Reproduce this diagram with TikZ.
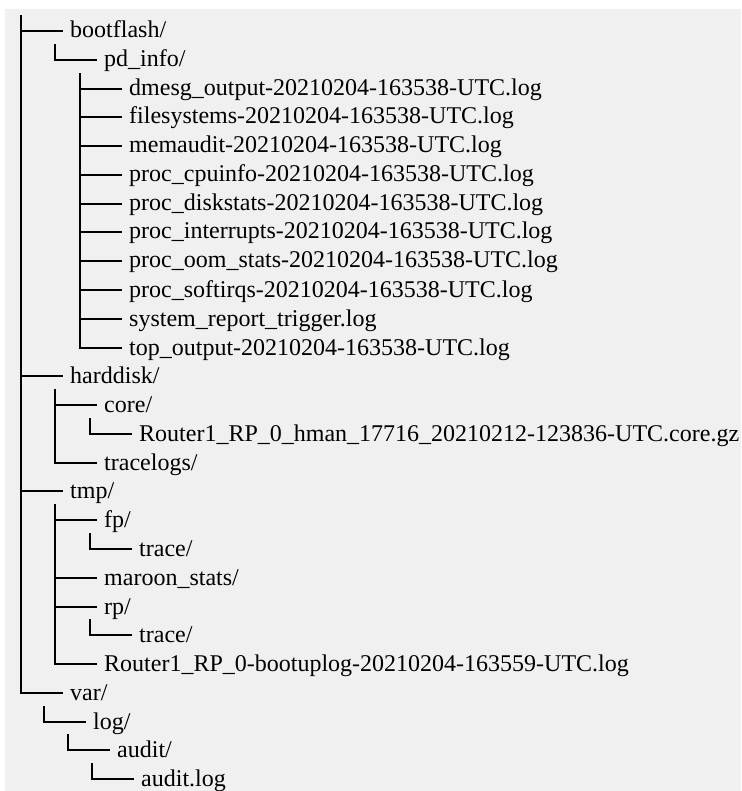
\documentclass[tikz,border=0pt]{standalone}
\usepackage{fontspec}
\setmainfont{Liberation Serif}
\definecolor{bggray}{HTML}{F0F0F0}
\newcommand\rowy[1]{round(31+28.78*#1)}
\newcommand\entry[4]{%
  \coordinate (#1-b) at (#2, {\rowy{#3}});
  \node[lbl] (#1) at ({#2+49}, {\rowy{#3}+7}) {#4};
}
\begin{document}
\begin{tikzpicture}[x=1pt,y=-1pt,
  lbl/.style={anchor=base west, inner sep=0pt, font=\fontsize{24}{28}\selectfont},
  tline/.style={line width=2pt, black}]
\useasboundingbox (0,0) rectangle (741,791);
\fill[white] (0,0) rectangle (741,791);
\fill[bggray] (5,9) rectangle (741,791);
\entry{bootflash}{21}{0}{bootflash/}
\entry{pdinfo}{55}{1}{pd\_info/}
\entry{dmesg}{80}{2}{dmesg\_output-20210204-163538-UTC.log}
\entry{filesys}{80}{3}{filesystems-20210204-163538-UTC.log}
\entry{memaudit}{80}{4}{memaudit-20210204-163538-UTC.log}
\entry{cpuinfo}{80}{5}{proc\_cpuinfo-20210204-163538-UTC.log}
\entry{diskstats}{80}{6}{proc\_diskstats-20210204-163538-UTC.log}
\entry{interrupts}{80}{7}{proc\_interrupts-20210204-163538-UTC.log}
\entry{oom}{80}{8}{proc\_oom\_stats-20210204-163538-UTC.log}
\entry{softirqs}{80}{9}{proc\_softirqs-20210204-163538-UTC.log}
\entry{sysrep}{80}{10}{system\_report\_trigger.log}
\entry{topout}{80}{11}{top\_output-20210204-163538-UTC.log}
\entry{harddisk}{21}{12}{harddisk/}
\entry{core}{55}{13}{core/}
\entry{corefile}{90}{14}{Router1\_RP\_0\_hman\_17716\_20210212-123836-UTC.core.gz}
\entry{tracelogs}{55}{15}{tracelogs/}
\entry{tmp}{21}{16}{tmp/}
\entry{fp}{55}{17}{fp/}
\entry{fptrace}{90}{18}{trace/}
\entry{maroon}{55}{19}{maroon\_stats/}
\entry{rp}{55}{20}{rp/}
\entry{rptrace}{90}{21}{trace/}
\entry{bootlog}{55}{22}{Router1\_RP\_0-bootuplog-20210204-163559-UTC.log}
\entry{var}{21}{23}{var/}
\entry{log}{44}{24}{log/}
\entry{audit}{68}{25}{audit/}
\entry{auditlog}{92}{26}{audit.log}
% vertical trunks: from above the first child down to the last child
\foreach \a/\b in {bootflash/var, pdinfo/pdinfo, dmesg/topout, core/tracelogs,
  corefile/corefile, fp/bootlog, fptrace/fptrace, rptrace/rptrace,
  log/log, audit/audit, auditlog/auditlog}
  \draw[tline, line cap=rect] ([yshift=15pt]\a-b) -- (\b-b);
% branches
\foreach \n in {bootflash,pdinfo,dmesg,filesys,memaudit,cpuinfo,diskstats,interrupts,
  oom,softirqs,sysrep,topout,harddisk,core,corefile,tracelogs,tmp,fp,fptrace,maroon,
  rp,rptrace,bootlog,var,log,audit,auditlog}
  \draw[tline] (\n-b) -- ([xshift=-7pt]\n-b -| \n.west);
\end{tikzpicture}
\end{document}
